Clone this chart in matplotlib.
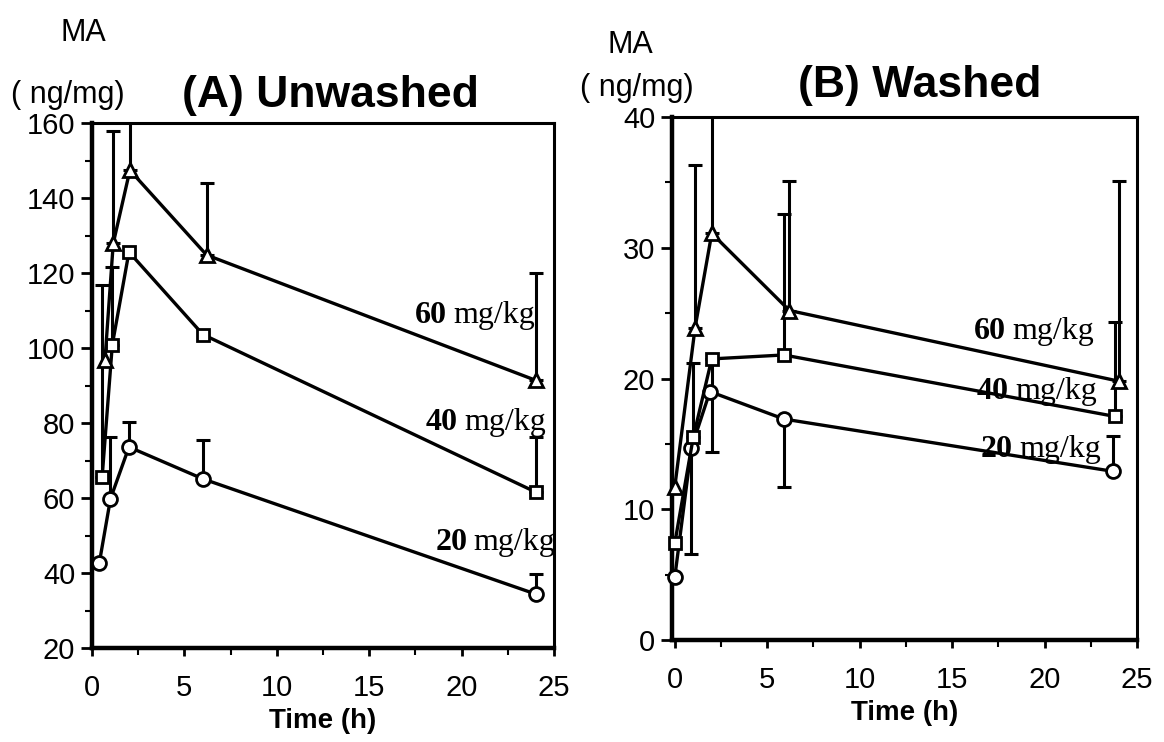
import matplotlib
matplotlib.use("Agg")
import matplotlib.pyplot as plt
import numpy as np
from matplotlib.ticker import MultipleLocator

# ---------------- data ----------------
doses = ["20", "40", "60"]
markers = ["o", "s", "^"]

# Panel A (Unwashed)
tA_20 = [0.4, 1.0, 2.0, 6.0, 24.0]
yA_20 = [42.8, 59.8, 73.6, 65.1, 34.4]
upA_20 = [0, 16.4, 6.6, 10.3, 5.4]
loA_20 = [0, 0, 0, 0, 0]

tA_40 = [0.55, 1.1, 2.0, 6.0, 24.0]
yA_40 = [65.7, 100.9, 125.6, 103.6, 61.6]
upA_40 = [51.0, 20.6, 0, 0, 14.6]
loA_40 = [0, 0, 0, 0, 0]

tA_60 = [0.7, 1.15, 2.05, 6.2, 24.0]
yA_60 = [96.7, 127.9, 147.4, 124.8, 91.4]
upA_60 = [0, 30.0, 20.0, 19.1, 28.5]
loA_60 = [0, 0, 0, 0, 0]

# Panel B (Washed)
tB_20 = [0.0, 0.9, 1.9, 5.9, 23.7]
yB_20 = [4.8, 14.7, 19.0, 16.9, 12.9]
upB_20 = [0, 0, 0, 0, 2.7]
loB_20 = [0, 8.1, 0, 5.2, 0]

tB_40 = [0.0, 1.0, 2.0, 5.9, 23.8]
yB_40 = [7.4, 15.5, 21.5, 21.8, 17.1]
upB_40 = [0, 5.7, 0, 10.8, 7.2]
loB_40 = [0, 0, 7.1, 0, 0]

tB_60 = [0.0, 1.1, 2.0, 6.2, 24.0]
yB_60 = [11.7, 23.9, 31.1, 25.2, 19.8]
upB_60 = [0, 12.4, 12.0, 9.9, 15.3]
loB_60 = [0, 0, 0, 0, 0]

# dose label anchor positions (x, y) where bold number ends / unit starts
labA = {"60": (19.2, 108.7), "40": (19.8, 80.2), "20": (20.3, 48.1)}
labB = {"60": (17.9, 23.6), "40": (18.05, 19.0), "20": (18.3, 14.6)}

titleA = "(A) Unwashed"
titleB = "(B) Washed"
xlabel = "Time (h)"
ylab1 = "MA"
ylab2 = "( ng/mg)"
unit = "mg/kg"

# ---------------- figure ----------------
W, H = 1164, 742
fig = plt.figure(figsize=(W / 100, H / 100), dpi=100)
sans = ["Liberation Sans", "DejaVu Sans"]
serif = ["Liberation Serif", "DejaVu Serif"]

axA = fig.add_axes([92 / W, 1 - 648 / H, (554 - 92) / W, (648 - 123) / H])
axB = fig.add_axes([672 / W, 1 - 640 / H, (1137 - 672) / W, (640 - 117) / H])

def draw(ax, series, labs, ylim, ymaj, ymin, xlim):
    for (t, y, lo, up, mk) in series:
        t = np.array(t); y = np.array(y)
        lo = np.array(lo); up = np.array(up)
        m = (lo > 0) | (up > 0)
        ax.errorbar(t[m], y[m], yerr=[lo[m], up[m]], fmt="none", ecolor="black",
                    elinewidth=2.2, capsize=5, capthick=2.2, zorder=2, clip_on=True)
        ax.plot(t, y, color="black", lw=2.4, marker=mk, markersize=10 if mk != "s" else 9,
                markerfacecolor="white", markeredgecolor="black", markeredgewidth=2,
                zorder=3, clip_on=False)
    for d, (x, yy) in labs.items():
        ax.text(x, yy, d, ha="right", va="center", fontsize=23, fontweight="bold",
                family=serif, zorder=4)
        ax.text(x + 0.35, yy, unit, ha="left", va="center", fontsize=23,
                family=serif, zorder=4)
    ax.set_xlim(*xlim)
    ax.set_ylim(*ylim)
    ax.yaxis.set_major_locator(MultipleLocator(ymaj))
    ax.yaxis.set_minor_locator(MultipleLocator(ymin))
    ax.xaxis.set_major_locator(MultipleLocator(5))
    ax.xaxis.set_minor_locator(MultipleLocator(2.5))
    ax.tick_params(axis="y", which="major", direction="out", length=8, width=2,
                   labelsize=21, pad=4)
    ax.tick_params(axis="y", which="minor", direction="out", length=5, width=1.5)
    ax.tick_params(axis="x", which="major", direction="out", length=6, width=2,
                   labelsize=21, pad=13)
    ax.tick_params(axis="x", which="minor", direction="out", length=5, width=1.5)
    for lab in ax.get_xticklabels() + ax.get_yticklabels():
        lab.set_family(sans)
    for s in ["left", "bottom"]:
        ax.spines[s].set_linewidth(3.2)
    for s in ["top", "right"]:
        ax.spines[s].set_linewidth(2.2)
    ax.set_xlabel(xlabel, fontsize=20, fontweight="bold", family=sans, labelpad=4)

draw(axA,
     [(tA_20, yA_20, loA_20, upA_20, "o"),
      (tA_40, yA_40, loA_40, upA_40, "s"),
      (tA_60, yA_60, loA_60, upA_60, "^")],
     labA, (20, 160), 20, 10, (0, 25))
draw(axB,
     [(tB_20, yB_20, loB_20, upB_20, "o"),
      (tB_40, yB_40, loB_40, upB_40, "s"),
      (tB_60, yB_60, loB_60, upB_60, "^")],
     labB, (0, 40), 10, 5, (-0.15, 25))

# y-axis labels and titles
fig.text(83 / W, 1 - 33 / H, ylab1, ha="center", va="center", fontsize=22, family=sans)
fig.text(68 / W, 1 - 95 / H, ylab2, ha="center", va="center", fontsize=22, family=sans)
fig.text(330 / W, 1 - 96 / H, titleA, ha="center", va="center", fontsize=32,
         fontweight="bold", family=sans)

fig.text(630 / W, 1 - 45 / H, ylab1, ha="center", va="center", fontsize=22, family=sans)
fig.text(637 / W, 1 - 88 / H, ylab2, ha="center", va="center", fontsize=22, family=sans)
fig.text(920 / W, 1 - 85 / H, titleB, ha="center", va="center", fontsize=32,
         fontweight="bold", family=sans)

fig.savefig("out.png", dpi=100)
